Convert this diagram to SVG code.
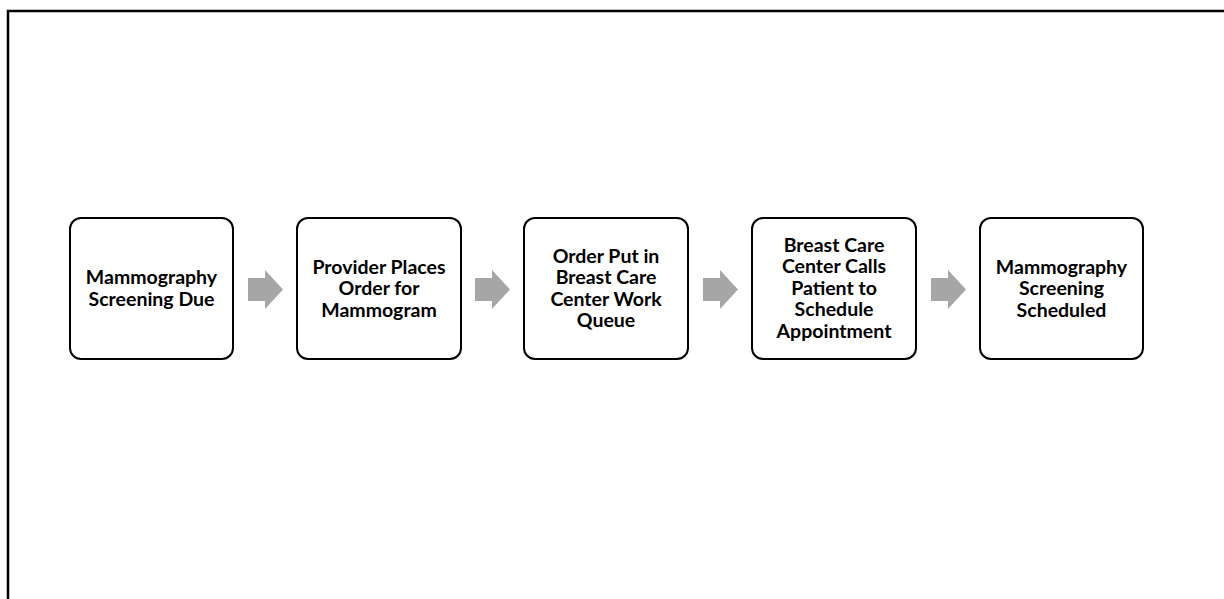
<svg xmlns="http://www.w3.org/2000/svg" width="1224" height="599" viewBox="0 0 1224 599">
<style>
.box{fill:#ffffff;stroke:#000000;stroke-width:2}
.lbl{font-family:Lato,"Liberation Sans",sans-serif;font-weight:bold;font-size:19.5px;fill:#000000;text-anchor:middle}
.arr{fill:#a6a6a6}
</style>
<defs>
<path id="arrow" d="M0,8 H17 V0 L35,19.5 L17,39 V31 H0 Z"/>
</defs>
<rect width="1224" height="599" fill="#ffffff"/>
<path d="M8,599 V11 H1224" fill="none" stroke="#000000" stroke-width="2.5"/>
<g id="connectors">
<use href="#arrow" class="arr" x="248" y="270"/>
<use href="#arrow" class="arr" x="475" y="270"/>
<use href="#arrow" class="arr" x="703" y="270"/>
<use href="#arrow" class="arr" x="931" y="270"/>
</g>
<g id="n1">
<rect class="box" x="70" y="218" width="163" height="141" rx="11"/>
<text class="lbl"><tspan x="151.5" y="284">Mammography</tspan><tspan x="151.5" y="305.5">Screening Due</tspan></text>
</g>
<g id="n2">
<rect class="box" x="297" y="218" width="164" height="141" rx="11"/>
<text class="lbl"><tspan x="379" y="273.5">Provider Places</tspan><tspan x="379" y="295">Order for</tspan><tspan x="379" y="316.5">Mammogram</tspan></text>
</g>
<g id="n3">
<rect class="box" x="524" y="218" width="164" height="141" rx="11"/>
<text class="lbl"><tspan x="606" y="262.5">Order Put in</tspan><tspan x="606" y="284">Breast Care</tspan><tspan x="606" y="305.5">Center Work</tspan><tspan x="606" y="327">Queue</tspan></text>
</g>
<g id="n4">
<rect class="box" x="752" y="218" width="164" height="141" rx="11"/>
<text class="lbl"><tspan x="834" y="251.5">Breast Care</tspan><tspan x="834" y="273">Center Calls</tspan><tspan x="834" y="294.5">Patient to</tspan><tspan x="834" y="316">Schedule</tspan><tspan x="834" y="337.5">Appointment</tspan></text>
</g>
<g id="n5">
<rect class="box" x="980" y="218" width="163" height="141" rx="11"/>
<text class="lbl"><tspan x="1061.5" y="273.5">Mammography</tspan><tspan x="1061.5" y="295">Screening</tspan><tspan x="1061.5" y="316.5">Scheduled</tspan></text>
</g>
</svg>
